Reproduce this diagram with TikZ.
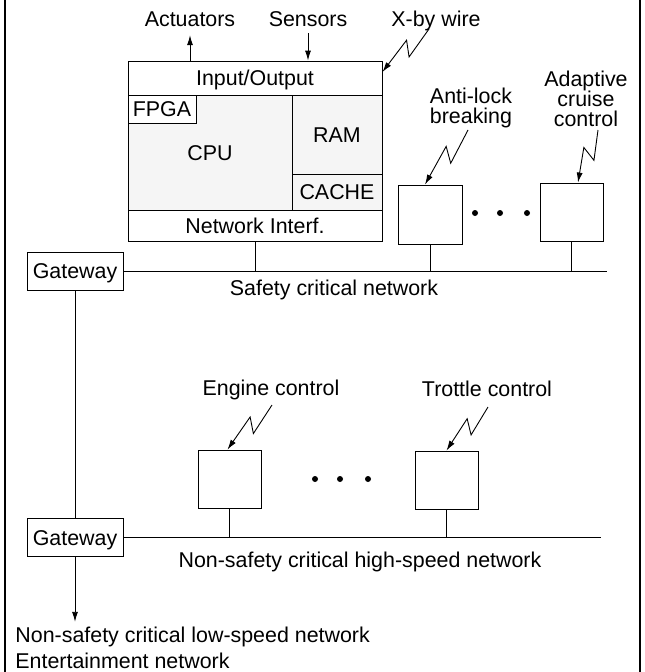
\documentclass[tikz,border=0pt]{standalone}
\usepackage{fontspec}
\setmainfont{Liberation Sans}
\usetikzlibrary{arrows.meta,calc}

% lightning arrow from a start point to a tip
\newcommand{\zap}[2]{%
  \draw[->] (#1) -- ($(#1)!0.53!(#2)!7pt!90:(#2)$)
    -- ($(#1)!0.38!(#2)!7pt!-90:(#2)$) -- (#2);}

\begin{document}
\begin{tikzpicture}[
            x = 1pt, y = -1pt, % pixel grid, y pointing down
            > = {Latex[length=10pt,width=6pt]}, % arrow head style
            line width = 0.9pt, % line style
            every node/.style = {font=\fontsize{21.4}{20}\selectfont, inner sep=0pt},
            lbl/.style = {text height=15.5pt, text depth=0pt},
            blk/.style = {draw, lbl},
            ecu/.style = {draw, minimum width=63pt, minimum height=58pt}
        ]

	\useasboundingbox (0,0) rectangle (645,672);
	\draw[line width=1.4pt] (5,0) -- (5,672);
	\draw[line width=1.4pt] (640,0) -- (640,672);

	% controller
	\node[blk, minimum width=254pt, minimum height=34pt] (io) at (255,78) {Input/Output};
	\node[blk, fill=gray!8, minimum width=164pt, minimum height=115pt] (cpu) at (210,152.5) {CPU};
	\node[blk, fill=gray!8, minimum width=90pt, minimum height=79pt] (ram) at (337,134.5) {RAM};
	\node[blk, fill=gray!8, minimum width=90pt, minimum height=36pt] (cache) at (337,192) {CACHE};
	\node[blk, fill=white, minimum width=68pt, minimum height=28pt] (fpga) at (162,109) {FPGA};
	\node[blk, minimum width=254pt, minimum height=31pt] (ni) at (255,225.5) {Network Interf.};

	\node[lbl] (act) at (190,19) {Actuators};
	\node[lbl] (sens) at (308,19) {Sensors};
	\node[lbl] (xby) at (436,19) {X-by wire};
	\draw[->, shorten >=8pt] (act.south |- io.north) -- (act.south);
	\draw[->, shorten <=6pt] (sens.south) -- (sens.south |- io.north);

	% safety critical side
	\node[align=center] (abstxt) at (471,108) {Anti-lock\\breaking};
	\node[align=center] (acctxt) at (586,99) {Adaptive\\cruise\\control};
	\node[ecu, minimum width=64pt, minimum height=59pt] (abs) at (430,214.5) {};
	\node[ecu] (acc) at (571.5,212) {};
	\node[blk, minimum width=96pt, minimum height=38pt] (gw1) at (75,271) {Gateway};
	\coordinate (sbus) at (607,271);
	\node[lbl] (snet) at (334,288) {Safety critical network};

	\draw (gw1.east) -- (sbus);
	\draw (ni.south) -- (ni.south |- sbus);
	\draw (abs.south) -- (abs.south |- sbus);
	\draw (acc.south) -- (acc.south |- sbus);
	\foreach \x in {475,500,527} \fill (\x,213) circle (3);

	% high-speed side
	\node[lbl] (engtxt) at (271,388) {Engine control};
	\node[lbl] (thrtxt) at (487,389) {Trottle control};
	\node[ecu] (eng) at (229.5,479) {};
	\node[ecu] (thr) at (446.5,480) {};
	\node[blk, minimum width=96pt, minimum height=38pt] (gw2) at (75,537.5) {Gateway};
	\coordinate (hbus) at (601,537.5);
	\node[lbl] (hnet) at (360,560) {Non-safety critical high-speed network};

	\draw (gw1.south) -- (gw2.north);
	\draw (gw2.east) -- (hbus);
	\draw (eng.south) -- (eng.south |- hbus);
	\draw (thr.south) -- (thr.south |- hbus);
	\foreach \x in {315,340,368} \fill (\x,479) circle (3);

	% low-speed side
	\node[lbl, anchor=west] (low) at (15,635) {Non-safety critical low-speed network};
	\node[lbl, anchor=west] (ent) at (15,661) {Entertainment network};
	\draw[->, shorten >=5pt] (gw2.south) -- (gw2.south |- low.north);

	% wireless links
	\coordinate (xbyS) at (429,29);
	\coordinate (xbyT) at ([yshift=6pt]io.east);
	\coordinate (absS) at (468,130);
	\coordinate (absT) at ([xshift=-5pt]abs.north);
	\coordinate (accS) at (598,130);
	\coordinate (accT) at ([xshift=6.5pt]acc.north);
	\coordinate (engS) at (272,405);
	\coordinate (engT) at ([xshift=-2pt]eng.north);
	\coordinate (thrS) at (488,407);
	\coordinate (thrT) at (thr.north);
	\zap{xbyS}{xbyT}
	\zap{absS}{absT}
	\zap{accS}{accT}
	\zap{engS}{engT}
	\zap{thrS}{thrT}
\end{tikzpicture}
\end{document}
